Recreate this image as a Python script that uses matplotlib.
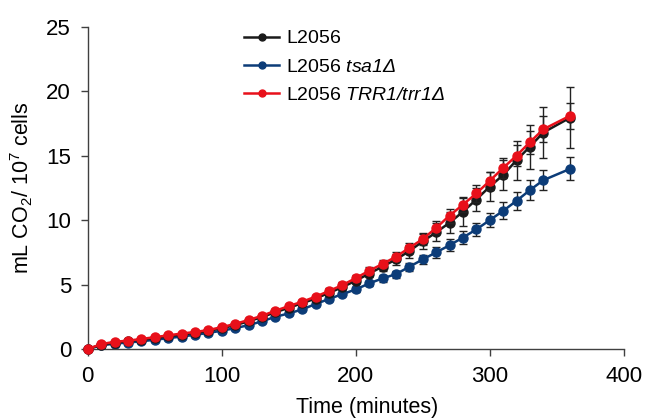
import matplotlib
matplotlib.use("Agg")
import matplotlib.pyplot as plt
from matplotlib.lines import Line2D

plt.rcParams['font.family'] = ['Liberation Sans', 'DejaVu Sans']
plt.rcParams['mathtext.fontset'] = 'custom'
plt.rcParams['mathtext.rm'] = 'Liberation Sans'
plt.rcParams['mathtext.it'] = 'Liberation Sans:italic'

time = [0, 10, 20, 30, 40, 50, 60, 70, 80, 90, 100, 110, 120, 130, 140, 150, 160,
        170, 180, 190, 200, 210, 220, 230, 240, 250, 260, 270, 280, 290, 300, 310,
        320, 330, 340, 360]

l2056 = [0, 0.33, 0.5, 0.6, 0.72, 0.85, 0.98, 1.12, 1.25, 1.4, 1.62, 1.85, 2.15,
         2.48, 2.85, 3.2, 3.55, 3.92, 4.35, 4.8, 5.3, 5.85, 6.4, 6.95, 7.6, 8.35,
         9.05, 9.8, 10.65, 11.6, 12.6, 13.5, 14.65, 15.7, 16.8, 17.95]
l2056_err = [0, 0.05, 0.05, 0.05, 0.05, 0.05, 0.05, 0.05, 0.06, 0.07, 0.08, 0.09,
             0.1, 0.1, 0.12, 0.13, 0.15, 0.17, 0.2, 0.22, 0.25, 0.3, 0.33, 0.4, 0.5,
             0.6, 0.7, 0.8, 1.1, 0.9, 1.1, 1.2, 1.5, 1.7, 2.0, 2.35]

tsa1 = [0, 0.28, 0.42, 0.5, 0.6, 0.72, 0.84, 0.97, 1.1, 1.25, 1.42, 1.62, 1.85,
        2.15, 2.5, 2.76, 3.07, 3.49, 3.88, 4.26, 4.62, 5.09, 5.48, 5.81, 6.38, 6.95,
        7.5, 8.05, 8.65, 9.28, 10.0, 10.72, 11.5, 12.33, 13.1, 13.98]
tsa1_err = [0, 0.04, 0.04, 0.04, 0.04, 0.05, 0.05, 0.05, 0.06, 0.06, 0.07, 0.08,
            0.09, 0.1, 0.1, 0.11, 0.12, 0.13, 0.15, 0.17, 0.2, 0.22, 0.25, 0.28, 0.3,
            0.35, 0.4, 0.45, 0.5, 0.5, 0.55, 0.65, 0.7, 0.8, 0.8, 0.9]

trr1 = [0, 0.38, 0.56, 0.65, 0.78, 0.92, 1.06, 1.2, 1.32, 1.47, 1.7, 1.95, 2.25,
        2.58, 2.97, 3.33, 3.67, 4.06, 4.5, 4.96, 5.5, 6.07, 6.6, 7.16, 7.85, 8.53,
        9.4, 10.35, 11.2, 12.07, 13.05, 14.05, 15.0, 16.05, 17.05, 18.1]
trr1_err = [0, 0.04, 0.04, 0.04, 0.05, 0.05, 0.05, 0.06, 0.06, 0.07, 0.08, 0.09,
            0.1, 0.1, 0.12, 0.13, 0.15, 0.17, 0.2, 0.22, 0.25, 0.28, 0.3, 0.35, 0.4,
            0.45, 0.5, 0.55, 0.6, 0.65, 0.7, 0.75, 0.8, 0.9, 1.0, 1.0]

labels = [r'$\mathrm{L2056}$', r'$\mathrm{L2056}$ tsa1Δ', r'$\mathrm{L2056}$ TRR1/trr1Δ']
colors = ['#1a1a1a', '#0c3c78', '#e8101a']
xticks = [0, 100, 200, 300, 400]
yticks = [0, 5, 10, 15, 20, 25]

fig = plt.figure(figsize=(6.45, 4.19), dpi=100)
ax = fig.add_axes([0.136, 0.167, 0.831, 0.769])

series = [(l2056, l2056_err), (tsa1, tsa1_err), (trr1, trr1_err)]
zorders = [3, 2, 4]
for (vals, errs), c, lab, z in zip(series, colors, labels, zorders):
    ax.errorbar(time, vals, yerr=errs, color=c, ecolor='#222222', elinewidth=1.0,
                capsize=3, capthick=1.0, marker='o', markersize=6.5, linewidth=1.8,
                label=lab, zorder=z, clip_on=False)

ax.set_xlim(0, 400)
ax.set_ylim(0, 25)
ax.set_xticks(xticks)
ax.set_yticks(yticks)
for s in ['top', 'right']:
    ax.spines[s].set_visible(False)
for s in ['left', 'bottom']:
    ax.spines[s].set_color('#404040')
    ax.spines[s].set_linewidth(1.0)
ax.tick_params(axis='both', direction='out', length=5, width=1.0, color='#404040',
               labelsize=16, pad=7)
ax.set_xlabel('Time (minutes)', fontsize=15.5)
ax.xaxis.set_label_coords((367 - 88) / 536, -(407 - 349) / 322)
ax.xaxis.label.set_va('center')
ax.set_ylabel(r'mL CO$_2$/ 10$^7$ cells', fontsize=15.5)
ax.yaxis.set_label_coords(-(88 - 22) / 536, 0.5)
ax.yaxis.label.set_va('center')

leg_handles = [Line2D([0], [0], color=c, marker='o', markersize=5, linewidth=1.8) for c in colors]
leg = ax.legend(leg_handles, labels, loc='upper left', bbox_to_anchor=(0.259, 1.045),
                frameon=False, fontsize=14, handlelength=1.8, handletextpad=0.36,
                labelspacing=0.55)
for t in leg.get_texts():
    t.set_fontstyle('italic')

fig.savefig('out.png', dpi=100)
